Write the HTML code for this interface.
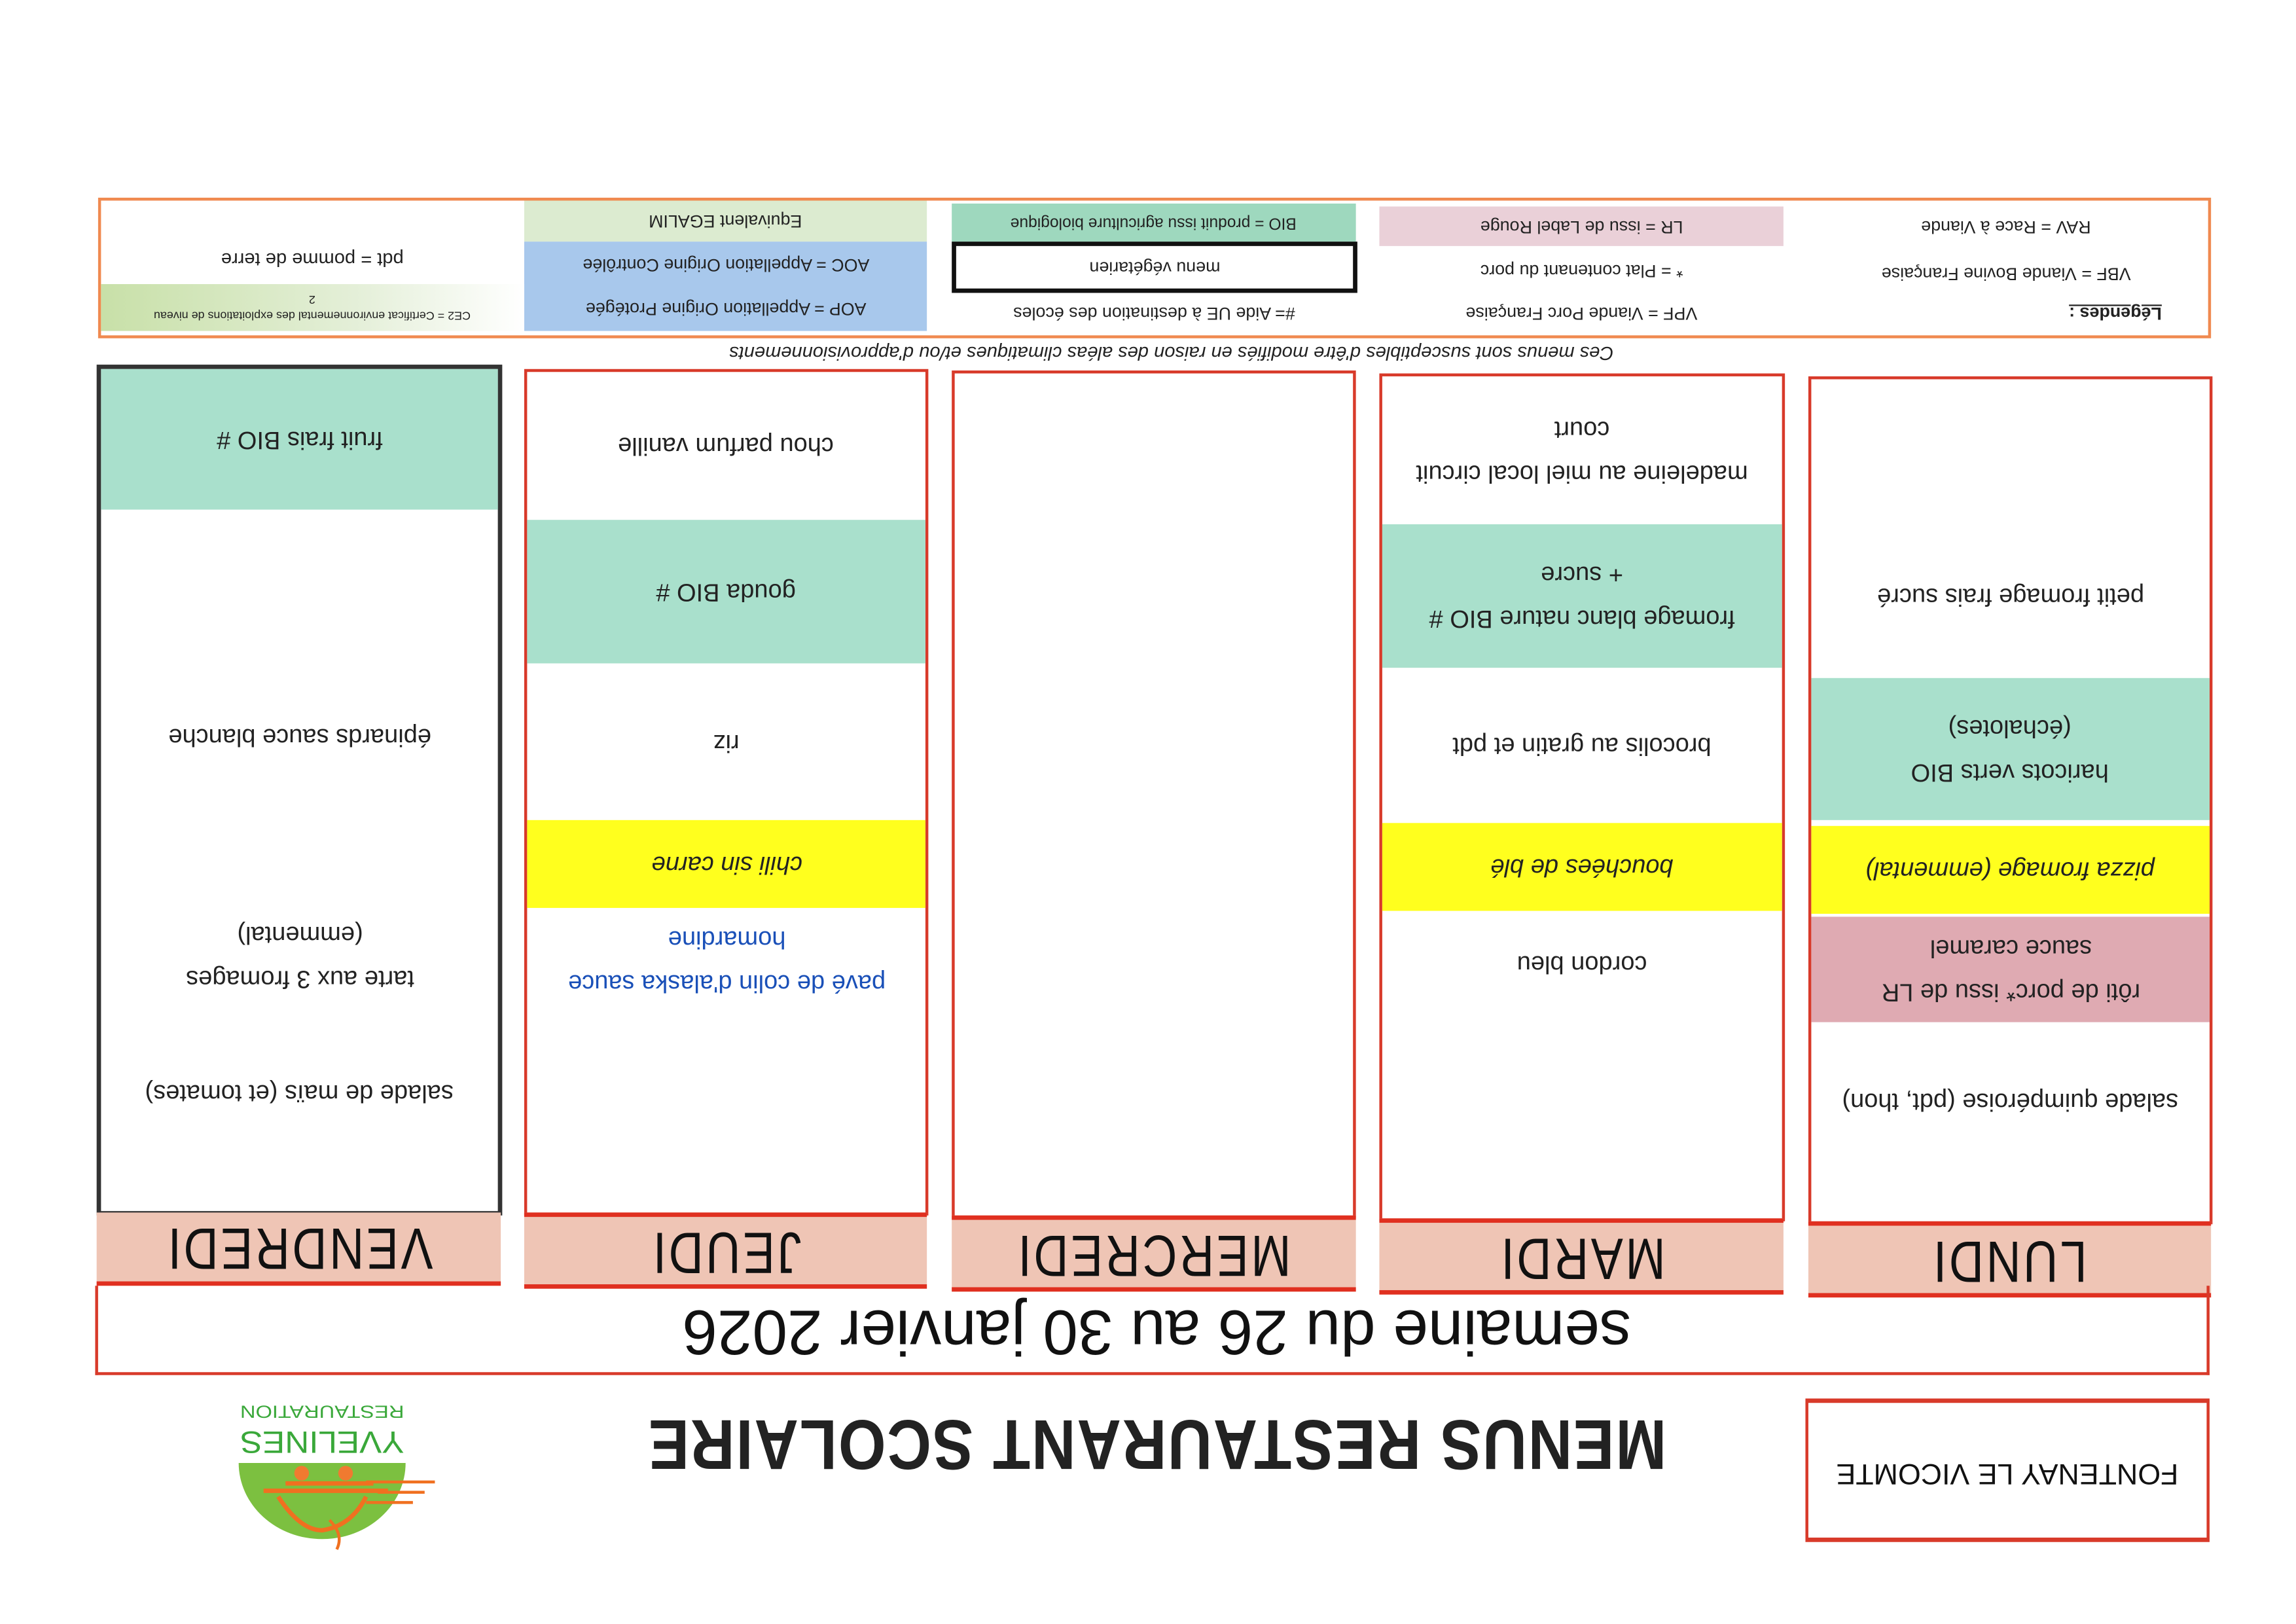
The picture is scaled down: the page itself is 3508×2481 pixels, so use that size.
<!DOCTYPE html>
<html><head><meta charset="utf-8"><style>
html,body{margin:0;padding:0;background:#fff;}
body{width:3508px;height:2480px;overflow:hidden;position:relative;}
#w{position:absolute;left:0;top:0;width:1568px;height:1109px;transform:scale(2.2372);transform-origin:0 0;font-family:"Liberation Sans",sans-serif;color:#222;}
.c{position:absolute;display:flex;align-items:center;justify-content:center;text-align:center;box-sizing:border-box;white-space:nowrap;}
.t{display:inline-block;transform:rotate(180deg);}
.m{font-size:17px;line-height:30px;}
.g{background:#a9e0cc;}
.y{background:#ffff1e;}
.p{background:#dfaab2;}
.d{background:#efc5b5;font-size:40px;letter-spacing:2px;color:#111;}
.d .t{transform:rotate(180deg) scaleX(0.82);}
.col{position:absolute;box-sizing:border-box;border:2px solid #d83a2a;}
.l{font-size:12px;}
</style></head><body><div id="w">

<div class="col" style="left:67px;top:135px;width:1443px;height:96px;border:2px solid #f08a50;"></div>
<div class="c l" style="left:1235px;top:140px;width:270px;height:30px"><span class="t">RAV = Race à Viande</span></div>
<div class="c l" style="left:1235px;top:172px;width:270px;height:30px"><span class="t">VBF = Viande Bovine Française</span></div>
<div class="c l" style="left:1400px;top:202px;width:90px;height:24px;font-weight:bold;"><span class="t" style="text-decoration:underline">Légendes :</span></div>
<div class="c l p" style="left:942px;top:141px;width:276px;height:27px;background:#ead0d8"><span class="t">LR = issu de Label Rouge</span></div>
<div class="c l" style="left:942px;top:170px;width:276px;height:30px"><span class="t">* = Plat contenant du porc</span></div>
<div class="c l" style="left:942px;top:200px;width:276px;height:28px"><span class="t">VPF = Viande Porc Française</span></div>
<div class="c l" style="left:650px;top:139px;width:276px;height:26px;background:#9ed8be;font-size:11px"><span class="t">BIO = produit issu agriculture biologique</span></div>
<div class="c l" style="left:650px;top:165px;width:277px;height:35px;border:3px solid #111;"><span class="t">menu végétarien</span></div>
<div class="c l" style="left:650px;top:200px;width:276px;height:28px"><span class="t">#= Aide UE à destination des écoles</span></div>
<div class="c l" style="left:358px;top:137px;width:275px;height:28px;background:#dcebd0"><span class="t">Equivalent EGALIM</span></div>
<div class="c l" style="left:358px;top:165px;width:275px;height:31px;background:#a8c8ec"><span class="t">AOC = Appellation Origine Contrôlée</span></div>
<div class="c l" style="left:358px;top:196px;width:275px;height:30px;background:#a8c8ec"><span class="t">AOP = Appellation Origine Protégée</span></div>
<div class="c l" style="left:69px;top:160px;width:289px;height:34px;font-size:13px"><span class="t">pdt = pomme de terre</span></div>
<div class="c" style="left:69px;top:194px;width:289px;height:32px;font-size:8px;line-height:11px;background:linear-gradient(to right,#c8e0a8,#e4efd8 60%,#fff)"><span class="t">CE2 = Certificat environnemental des exploitations de niveau<br>2</span></div>

<div class="c" style="left:300px;top:230px;width:1000px;height:22px;font-size:13px;font-style:italic"><span class="t">Ces menus sont susceptibles d'être modifiés en raison des aléas climatiques et/ou d'approvisionnements</span></div>

<div class="col" style="left:66px;top:249px;width:277px;height:581px;border:3px solid #333;"></div>
<div class="c g m" style="left:69px;top:252px;width:271px;height:96px"><span class="t">fruit frais BIO #</span></div>
<div class="c m" style="left:69px;top:480px;width:271px;height:46px"><span class="t">épinards sauce blanche</span></div>
<div class="c m" style="left:69px;top:620px;width:271px;height:66px"><span class="t">tarte aux 3 fromages<br>(emmental)</span></div>
<div class="c m" style="left:69px;top:728px;width:271px;height:36px"><span class="t">salade de maïs (et tomates)</span></div>
<div class="c d" style="left:66px;top:828px;width:276px;height:50px;border-bottom:3px solid #e03020"><span class="t">VENDREDI</span></div>

<div class="col" style="left:358px;top:252px;width:276px;height:578px;"></div>
<div class="c m" style="left:360px;top:254px;width:272px;height:100px"><span class="t">chou parfum vanille</span></div>
<div class="c g m" style="left:360px;top:355px;width:272px;height:98px"><span class="t">gouda BIO #</span></div>
<div class="c m" style="left:360px;top:453px;width:272px;height:107px"><span class="t">riz</span></div>
<div class="c y m" style="left:360px;top:560px;width:272px;height:60px;font-style:italic"><span class="t">chili sin carne</span></div>
<div class="c m" style="left:360px;top:625px;width:272px;height:62px;color:#1a50b8"><span class="t">pavé de colin d'alaska sauce<br>homardine</span></div>
<div class="c d" style="left:358px;top:828px;width:275px;height:52px;border-top:3px solid #e03020;border-bottom:3px solid #e03020"><span class="t">JEUDI</span></div>

<div class="col" style="left:650px;top:253px;width:276px;height:579px;"></div>
<div class="c d" style="left:650px;top:830px;width:276px;height:52px;border-top:3px solid #e03020;border-bottom:3px solid #e03020"><span class="t">MERCREDI</span></div>

<div class="col" style="left:942px;top:255px;width:277px;height:579px;"></div>
<div class="c m" style="left:944px;top:258px;width:273px;height:100px"><span class="t">madeleine au miel local circuit<br>court</span></div>
<div class="c g m" style="left:944px;top:358px;width:273px;height:98px"><span class="t">fromage blanc nature BIO #<br>+ sucre</span></div>
<div class="c m" style="left:944px;top:456px;width:273px;height:106px"><span class="t">brocolis au gratin et pdt</span></div>
<div class="c y m" style="left:944px;top:562px;width:273px;height:60px;font-style:italic"><span class="t">bouchées de blé</span></div>
<div class="c m" style="left:944px;top:640px;width:273px;height:36px"><span class="t">cordon bleu</span></div>
<div class="c d" style="left:942px;top:832px;width:276px;height:52px;border-top:3px solid #e03020;border-bottom:3px solid #e03020"><span class="t">MARDI</span></div>

<div class="col" style="left:1235px;top:257px;width:276px;height:579px;"></div>
<div class="c m" style="left:1237px;top:350px;width:272px;height:113px"><span class="t">petit fromage frais sucré</span></div>
<div class="c g m" style="left:1237px;top:463px;width:272px;height:97px"><span class="t">haricots verts BIO<br>(échalotes)</span></div>
<div class="c y m" style="left:1237px;top:564px;width:272px;height:60px;font-style:italic"><span class="t">pizza fromage (emmental)</span></div>
<div class="c p m" style="left:1237px;top:626px;width:272px;height:72px"><span class="t">rôti de porc* issu de LR<br>sauce caramel</span></div>
<div class="c m" style="left:1237px;top:734px;width:272px;height:36px"><span class="t">salade quimpéroise (pdt, thon)</span></div>
<div class="c d" style="left:1235px;top:834px;width:275px;height:52px;border-top:3px solid #e03020;border-bottom:3px solid #e03020"><span class="t">LUNDI</span></div>

<div class="col" style="left:65px;top:878px;width:1444px;height:61px;border-top:none;"></div>
<div class="c" style="left:300px;top:880px;width:980px;height:56px;font-size:43px;color:#111"><span class="t">semaine du 26 au 30 janvier 2026</span></div>

<div class="c" style="left:300px;top:950px;width:980px;height:70px;font-size:48px;font-weight:bold;letter-spacing:1px;color:#222"><span class="t" style="transform:rotate(180deg) scaleX(0.87)">MENUS RESTAURANT SCOLAIRE</span></div>

<div class="col" style="left:1233px;top:955px;width:276px;height:98px;border-width:3px 2px;"></div>
<div class="c" style="left:1235px;top:985px;width:272px;height:40px;font-size:20px;color:#111"><span class="t">FONTENAY LE VICOMTE</span></div>

<svg style="position:absolute;left:150px;top:950px" width="160" height="110" viewBox="0 0 160 110">
<path d="M13 49 L127 49 A57 52 0 0 1 13 49 Z" fill="#7cc040"/>
<circle cx="56" cy="56" r="5" fill="#f07a30"/><circle cx="86" cy="56" r="5" fill="#f07a30"/>
<path d="M45 63 L105 63 M30 68 L115 68" stroke="#f07020" stroke-width="3"/>
<path d="M100 62 L147 62 M108 69 L140 69 M100 76 L132 76" stroke="#f07020" stroke-width="2"/>
<path d="M40 72 Q55 95 70 95 Q90 92 100 72" stroke="#f07020" stroke-width="3" fill="none"/>
<path d="M75 88 Q85 98 80 108" stroke="#f07020" stroke-width="2" fill="none"/>
<text x="70" y="14" transform="rotate(180 70 14)" font-family="Liberation Sans" font-size="12" fill="#3aa83a" text-anchor="middle" dominant-baseline="central" textLength="112" lengthAdjust="spacingAndGlyphs">RESTAURATION</text>
<text x="70" y="35" transform="rotate(180 70 35)" font-family="Liberation Sans" font-size="21" fill="#3aa83a" text-anchor="middle" dominant-baseline="central" textLength="112" lengthAdjust="spacingAndGlyphs">YVELINES</text>
</svg>
</div></body></html>
